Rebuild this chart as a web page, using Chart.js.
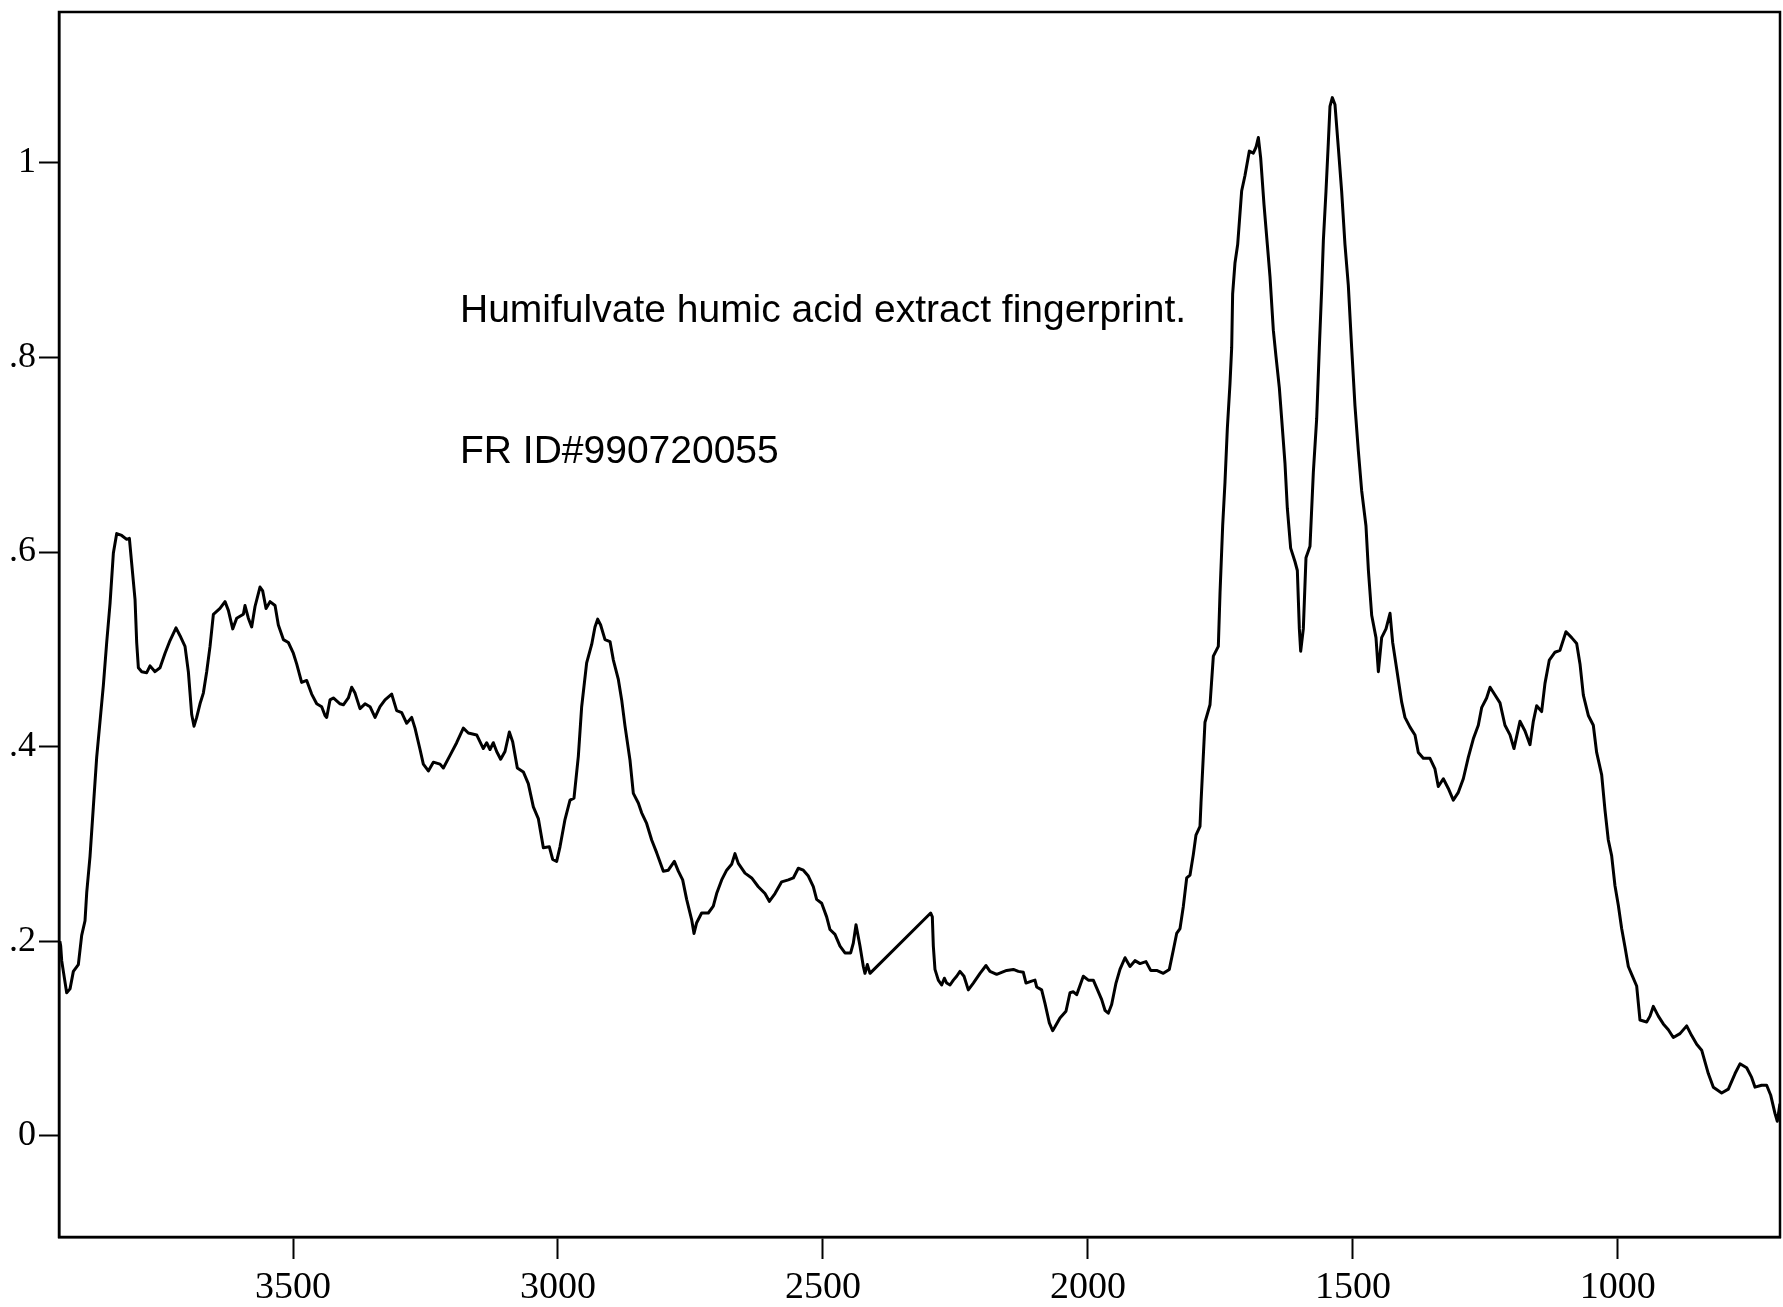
<!doctype html>
<html>
<head>
  <meta charset="utf-8">
  <title>Humifulvate humic acid extract fingerprint</title>
  <script src="https://cdn.jsdelivr.net/npm/chart.js"></script>
  <style>
    body { margin: 0; background: #fff; }
    #wrap { width: 1783px; height: 1307px; }
  </style>
</head>
<body>
  <div id="wrap"><canvas id="chart"></canvas></div>
  <script>
    // wavenumber (cm-1) and absorbance
    const wavenumber = [
      3940, 3938.4, 3936.5, 3933.4, 3927.1, 3920.8, 3914.5, 3905.1, 3898.8, 3892.5, 3889.3, 3883.1, 3876.8, 3870.5, 3864.2,
      3857.9, 3851.6, 3845.3, 3839.0, 3832.7, 3823.3, 3813.9, 3808.8, 3804.4, 3798.1, 3795.0, 3791.8, 3785.5, 3776.1, 3769.8,
      3760.4, 3751.0, 3741.5, 3732.1, 3720.8, 3713.2, 3703.8, 3697.5, 3691.2, 3686.8, 3681.8, 3675.5, 3669.2, 3662.9, 3656.6,
      3650.3, 3637.8, 3628.3, 3622.0, 3613.8, 3606.3, 3593.7, 3590.6, 3584.3, 3578.0, 3571.7, 3562.3, 3557.2, 3550.9, 3543.4,
      3533.9, 3527.7, 3518.2, 3508.8, 3499.4, 3493.1, 3483.7, 3474.2, 3464.8, 3455.3, 3445.9, 3439.6, 3436.5, 3430.2, 3423.9,
      3411.3, 3405.0, 3395.6, 3389.3, 3383.0, 3373.6, 3364.1, 3354.7, 3345.2, 3335.8, 3326.4, 3313.8, 3304.4, 3294.9, 3285.5,
      3276.1, 3269.8, 3260.3, 3254.1, 3244.6, 3235.2, 3222.6, 3216.3, 3203.7, 3191.2,
      3178.6, 3169.2, 3153.4, 3140.9, 3134.6, 3128.3, 3122.0, 3115.7, 3108.2, 3100.0, 3091.8, 3085.5, 3076.7, 3065.4, 3056.0,
      3046.5, 3037.1, 3027.6, 3016.3, 3010.0, 3002.5, 2996.2, 2986.8, 2977.3, 2969.8, 2961.6, 2955.3, 2945.9, 2936.4, 2930.2,
      2925.1, 2919.5, 2911.3, 2901.8, 2895.5, 2886.1, 2879.8, 2873.5, 2864.1, 2857.8, 2848.4, 2842.1, 2832.7, 2823.2, 2813.8,
      2801.2, 2791.8, 2780.4, 2772.9, 2764.7, 2757.2, 2747.7, 2743.3, 2738.3, 2728.9, 2716.3, 2706.9, 2700.6, 2691.1, 2681.7,
      2672.3, 2666.0, 2659.7, 2647.1, 2634.5, 2622.0, 2609.4, 2601.2, 2590.5, 2577.9, 2565.3, 2555.9, 2546.5, 2537.0, 2527.6,
      2518.2, 2511.9, 2502.4, 2493.0, 2486.7, 2477.3, 2467.8, 2458.4, 2447.7, 2442.7, 2437.6, 2430.1, 2423.8, 2420.7, 2416.2,
      2411.2,
      2296.7, 2293.6, 2291.7, 2288.6, 2282.3, 2276.0, 2270.9, 2266.5, 2260.2, 2253.9, 2247.7, 2241.4, 2233.8, 2225.7, 2216.2,
      2203.6, 2192.3, 2184.8, 2172.2, 2153.3, 2140.7, 2131.3, 2121.9, 2116.8, 2106.2, 2099.9, 2096.7, 2087.3, 2081.0, 2072.8,
      2066.5, 2062.1, 2052.7, 2041.4, 2033.8, 2027.5, 2021.2, 2008.7, 1999.2, 1989.8, 1983.5, 1974.0, 1967.8, 1961.5, 1955.2,
      1947.0, 1939.5, 1930.0, 1920.6, 1911.2, 1901.7, 1890.4, 1881.6, 1870.3, 1857.7, 1846.4, 1838.8, 1832.5, 1826.2, 1819.9,
      1813.6, 1807.3, 1801.1, 1796.1, 1788.5, 1786.6,
      1779.1, 1769.6, 1763.3, 1753.9, 1750.7, 1745.7, 1741.3, 1736.9, 1731.9, 1728.7, 1726.9, 1722.5, 1717.4, 1709.9, 1703.6,
      1695.4, 1687.9, 1682.8, 1678.4, 1674.0, 1667.7, 1661.4, 1656.4, 1650.1, 1645.1, 1638.8, 1634.4, 1628.1, 1623.7, 1617.4,
      1609.2, 1604.8, 1601.0, 1598.5, 1593.5, 1588.5, 1580.9, 1574.6, 1568.3, 1563.3, 1558.9, 1555.7, 1550.7, 1546.3, 1543.2,
      1538.8, 1533.8, 1527.5, 1521.2, 1514.9, 1508.6, 1502.3, 1496.0, 1489.7, 1483.4, 1475.3, 1470.7, 1464.5, 1456.4, 1451.9,
      1445.7, 1437.5, 1429.9, 1424.9, 1417.4,
      1408.0, 1401.7, 1392.2, 1382.8, 1376.5, 1367.1, 1354.5, 1345.1, 1338.8, 1329.3, 1319.9, 1310.5, 1301.0, 1291.6, 1282.2,
      1272.7, 1263.3, 1257.0, 1247.6, 1241.1, 1231.8, 1222.4, 1213.0, 1203.5, 1196.0, 1184.7, 1175.2, 1165.8, 1159.5, 1153.2,
      1143.8, 1137.5, 1129.3, 1118.6, 1109.2, 1097.9, 1087.2, 1077.7, 1071.4, 1065.1, 1055.7, 1046.3, 1040.0, 1030.5, 1024.3,
      1018.0, 1011.7, 1005.4, 999.1, 992.8, 986.5, 980.2, 973.9, 964.5, 958.2, 945.6, 939.3, 933.1, 923.6, 914.2,
      904.7, 895.3, 882.7, 870.1, 860.7, 851.2, 841.8, 829.3, 819.8, 804.1, 791.5, 778.8, 769.5, 756.9, 747.5,
      741.1, 728.7, 719.2, 711.7, 703.5, 699.1, 694.1
    ];
    const absorbance = [
      0.200, 0.195, 0.180, 0.169, 0.147, 0.151, 0.169, 0.176, 0.206, 0.221, 0.250, 0.287, 0.338, 0.389, 0.426,
      0.463, 0.507, 0.547, 0.599, 0.619, 0.617, 0.613, 0.614, 0.588, 0.551, 0.507, 0.481, 0.477, 0.476, 0.483,
      0.477, 0.481, 0.496, 0.509, 0.522, 0.514, 0.503, 0.477, 0.433, 0.421, 0.430, 0.444, 0.455, 0.477, 0.503,
      0.536, 0.542, 0.549, 0.540, 0.521, 0.532, 0.536, 0.545, 0.532, 0.523, 0.544, 0.564, 0.560, 0.542, 0.549,
      0.545, 0.525, 0.510, 0.507, 0.496, 0.485, 0.466, 0.468, 0.454, 0.444, 0.441, 0.432, 0.430, 0.448, 0.450,
      0.444, 0.443, 0.450, 0.461, 0.455, 0.439, 0.444, 0.441, 0.430, 0.441, 0.448, 0.454, 0.437, 0.435, 0.424,
      0.430, 0.419, 0.397, 0.382, 0.375, 0.384, 0.382, 0.378, 0.391, 0.404,
      0.419, 0.414, 0.412, 0.398, 0.404, 0.397, 0.404, 0.395, 0.387, 0.395, 0.415, 0.405, 0.378, 0.374, 0.362,
      0.338, 0.326, 0.296, 0.297, 0.284, 0.282, 0.297, 0.325, 0.345, 0.347, 0.390, 0.441, 0.486, 0.505, 0.523,
      0.531, 0.525, 0.510, 0.508, 0.489, 0.469, 0.448, 0.421, 0.386, 0.352, 0.342, 0.332, 0.321, 0.304, 0.291,
      0.272, 0.273, 0.282, 0.272, 0.263, 0.243, 0.222, 0.208, 0.219, 0.229, 0.229, 0.236, 0.249, 0.263, 0.273,
      0.279, 0.290, 0.280, 0.270, 0.265, 0.256, 0.249, 0.241, 0.249, 0.261, 0.263, 0.265, 0.275, 0.273, 0.267,
      0.256, 0.243, 0.239, 0.225, 0.212, 0.207, 0.195, 0.188, 0.188, 0.198, 0.217, 0.195, 0.174, 0.167, 0.176,
      0.167,
      0.229, 0.225, 0.195, 0.171, 0.160, 0.155, 0.162, 0.157, 0.155, 0.160, 0.164, 0.169, 0.164, 0.150, 0.157,
      0.167, 0.175, 0.169, 0.166, 0.170, 0.171, 0.169, 0.168, 0.157, 0.159, 0.160, 0.153, 0.150, 0.136, 0.116,
      0.108, 0.112, 0.121, 0.128, 0.147, 0.148, 0.145, 0.164, 0.160, 0.160, 0.152, 0.140, 0.129, 0.126, 0.135,
      0.157, 0.171, 0.183, 0.174, 0.180, 0.177, 0.179, 0.170, 0.170, 0.167, 0.171, 0.191, 0.208, 0.213, 0.236,
      0.265, 0.268, 0.289, 0.309, 0.318, 0.342,
      0.425, 0.443, 0.493, 0.503, 0.558, 0.627, 0.672, 0.727, 0.773, 0.810, 0.865, 0.897, 0.916, 0.971, 0.987,
      1.012, 1.010, 1.016, 1.026, 1.005, 0.957, 0.916, 0.883, 0.828, 0.801, 0.769, 0.737, 0.691, 0.645, 0.604,
      0.590, 0.581, 0.521, 0.498, 0.521, 0.594, 0.606, 0.682, 0.737, 0.810, 0.870, 0.920, 0.971, 1.021, 1.058,
      1.067, 1.060, 1.016, 0.971, 0.916, 0.874, 0.810, 0.750, 0.704, 0.663, 0.627, 0.581, 0.535, 0.512, 0.477,
      0.512, 0.521, 0.537, 0.507, 0.480,
      0.446, 0.430, 0.420, 0.412, 0.394, 0.388, 0.388, 0.377, 0.359, 0.367, 0.357, 0.345, 0.353, 0.367, 0.389,
      0.408, 0.422, 0.440, 0.450, 0.461, 0.453, 0.445, 0.422, 0.412, 0.398, 0.426, 0.416, 0.402, 0.426, 0.442,
      0.436, 0.465, 0.489, 0.497, 0.499, 0.518, 0.512, 0.506, 0.485, 0.453, 0.432, 0.422, 0.394, 0.371, 0.335,
      0.304, 0.288, 0.257, 0.237, 0.213, 0.194, 0.174, 0.166, 0.154, 0.119, 0.117, 0.123, 0.133, 0.123, 0.115,
      0.109, 0.101, 0.105, 0.113, 0.103, 0.094, 0.088, 0.064, 0.050, 0.044, 0.048, 0.064, 0.074, 0.070, 0.060,
      0.050, 0.052, 0.052, 0.042, 0.023, 0.015, 0.033
    ];
    const xTicks = [3500, 3000, 2500, 2000, 1500, 1000];
    const yTicks = [0, 0.2, 0.4, 0.6, 0.8, 1];
    const yTickLabels = ['0', '.2', '.4', '.6', '.8', '1'];
    const notes = ['Humifulvate humic acid extract fingerprint.', 'FR ID#990720055'];

    const frame = {
      id: 'frame',
      afterDraw(chart) {
        const { ctx, chartArea: a } = chart;
        ctx.save();
        ctx.strokeStyle = '#000';
        ctx.lineWidth = 2.5;
        ctx.strokeRect(a.left, a.top, a.right - a.left, a.bottom - a.top);
        ctx.fillStyle = '#000';
        ctx.font = '39px "Liberation Sans", Arial, sans-serif';
        ctx.textBaseline = 'alphabetic';
        ctx.fillText(notes[0], 460, 322);
        ctx.fillText(notes[1], 460, 463);
        ctx.restore();
      }
    };

    const serif = '"Liberation Serif", "Times New Roman", serif';

    new Chart(document.getElementById('chart'), {
      type: 'line',
      data: {
        datasets: [{
          data: wavenumber.map((w, i) => ({ x: w, y: absorbance[i] })),
          borderColor: '#000',
          borderWidth: 3,
          borderJoinStyle: 'round',
          pointRadius: 0,
          tension: 0,
          fill: false
        }]
      },
      options: {
        responsive: true,
        maintainAspectRatio: false,
        animation: false,
        layout: { autoPadding: false, padding: { top: 12, right: 3, left: 0, bottom: 0 } },
        plugins: { legend: { display: false }, tooltip: { enabled: false } },
        scales: {
          x: {
            type: 'linear',
            reverse: true,
            min: 694,
            max: 3941.6,
            afterBuildTicks: s => { s.ticks = xTicks.map(v => ({ value: v })); },
            afterFit: s => { s.height = 70; s.paddingLeft = 0; s.paddingRight = 0; },
            grid: { drawOnChartArea: false, tickLength: 22, tickWidth: 2, color: '#000', tickColor: '#000' },
            border: { display: true, color: '#000', width: 2.5 },
            ticks: {
              color: '#000',
              font: { family: serif, size: 38 },
              padding: 6,
              maxRotation: 0,
              autoSkip: false,
              callback: v => String(v)
            }
          },
          y: {
            type: 'linear',
            min: -0.104,
            max: 1.155,
            afterBuildTicks: s => { s.ticks = yTicks.map(v => ({ value: v })); },
            afterFit: s => { s.width = 59; s.paddingTop = 0; s.paddingBottom = 0; },
            grid: { drawOnChartArea: false, tickLength: 20, tickWidth: 2, color: '#000', tickColor: '#000' },
            border: { display: true, color: '#000', width: 2.5 },
            ticks: {
              color: '#000',
              font: { family: serif, size: 36 },
              padding: 3,
              autoSkip: false,
              callback: (v, i) => yTickLabels[i]
            }
          }
        }
      },
      plugins: [frame]
    });
  </script>
</body>
</html>
